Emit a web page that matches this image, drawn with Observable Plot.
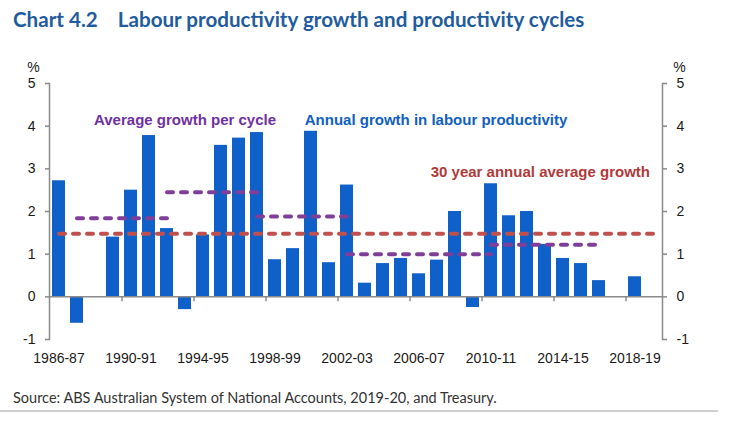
<!DOCTYPE html>
<html><head><meta charset="utf-8">
<script src="https://cdn.jsdelivr.net/npm/d3@7"></script>
<script src="https://cdn.jsdelivr.net/npm/@observablehq/plot@0.6"></script>
<style>
body{margin:0;background:#fff;width:733px;height:425px;overflow:hidden;font-family:"Liberation Sans",Arial,sans-serif}
#title{height:40px;box-sizing:border-box;padding:8px 0 0 13px;font:bold 20.6px/22px Lato;color:#1f5c9e;white-space:pre}
#chart{height:340px}
#chart svg{display:block}
#source{padding:10px 0 0 13px;font:14.5px/16px Lato;color:#333}
#rule{margin-top:4px;width:718px;height:2px;background:#cfcfcf}
</style></head>
<body>
<div id="title">Chart 4.2    Labour productivity growth and productivity cycles</div>
<div id="chart"></div>
<div id="source">Source: ABS Australian System of National Accounts, 2019-20, and Treasury.</div>
<div id="rule"></div>
<script>
// ---- data ----
const years = ["1986-87","1987-88","1988-89","1989-90","1990-91","1991-92","1992-93","1993-94","1994-95","1995-96","1996-97","1997-98","1998-99","1999-00","2000-01","2001-02","2002-03","2003-04","2004-05","2005-06","2006-07","2007-08","2008-09","2009-10","2010-11","2011-12","2012-13","2013-14","2014-15","2015-16","2016-17","2017-18","2018-19","2019-20"];
const growth = [2.72,-0.62,null,1.40,2.50,3.78,1.60,-0.30,1.45,3.55,3.72,3.85,0.87,1.13,3.88,0.80,2.62,0.32,0.78,0.90,0.54,0.86,2.00,-0.25,2.65,1.90,2.00,1.23,0.90,0.78,0.38,null,0.47,null];
const cycleStart = ["1987-88","1992-93","1997-98","2002-03","2010-11"];
const cycleEnd = ["1992-93","1997-98","2002-03","2010-11","2016-17"];
const cycleAverage = [1.84,2.45,1.88,1.00,1.22];
const longRunAverage = 1.48;
const yTicks = [-1,0,1,2,3,4,5];
const xLabelYears = years.filter((d,i)=>i%4===0);
const xTickYears = years.filter((d,i)=>i%4===0 && i>0);
const labels = ["Average growth per cycle","Annual growth in labour productivity","30 year annual average growth"];

// ---- derived tables ----
const bars = years.map((year,i)=>({year, value: growth[i]})).filter(d=>d.value!=null);
const cycleLines = cycleStart.flatMap((s,k)=>[
  {cycle:k, year:s, value:cycleAverage[k]},
  {cycle:k, year:cycleEnd[k], value:cycleAverage[k]}
]);
const avgLine = [{year:years[0], value:longRunAverage},{year:years[years.length-1], value:longRunAverage}];

const axisColor = "#8a8a8a";
function make(dxTick){
  return Plot.plot({
    width:733, height:340,
    marginLeft:49, marginRight:71, marginTop:43, marginBottom:41,
    style:{fontFamily:'"Liberation Sans", Arial, sans-serif', fontSize:"14px", color:"#1a1a1a", background:"transparent"},
    x:{type:"band", domain:years, paddingInner:0.27, paddingOuter:0.135, label:null},
    y:{domain:[-1,5], label:null},
    marks:[
      Plot.barY(bars,{x:"year", y:"value", fill:"#1060c9"}),
      Plot.ruleY([0],{stroke:axisColor, strokeWidth:1.5}),
      Plot.ruleX(xTickYears,{x:d=>d, y1:()=>0, y2:()=>0, insetBottom:-5, dx:dxTick, stroke:axisColor, strokeWidth:1.5}),
      Plot.frame({anchor:"left", stroke:axisColor, strokeWidth:1.5}),
      Plot.frame({anchor:"right", stroke:axisColor, strokeWidth:1.5}),
      Plot.axisY({anchor:"left", ticks:yTicks, tickSize:4, tickPadding:10, stroke:axisColor, strokeWidth:1.5, tickFormat:d=>String(d)}),
      Plot.axisY({anchor:"right", ticks:yTicks, tickSize:4, tickPadding:10, stroke:axisColor, strokeWidth:1.5, tickFormat:d=>String(d)}),
      Plot.axisX({anchor:"bottom", ticks:xLabelYears, tickSize:0, tickPadding:14}),
      Plot.text(["%"],{frameAnchor:"top-left", textAnchor:"middle", lineAnchor:"middle", dx:-16, dy:-16, fontSize:14}),
      Plot.text(["%"],{frameAnchor:"top-right", textAnchor:"middle", lineAnchor:"middle", dx:17, dy:-16, fontSize:14}),
      Plot.lineY(avgLine,{x:"year", y:"value", stroke:"#c0504d", strokeWidth:4, strokeDasharray:"6,8", strokeLinecap:"round"}),
      Plot.lineY(cycleLines,{x:"year", y:"value", z:"cycle", stroke:"#7f3f98", strokeWidth:4, strokeDasharray:"6,8", strokeLinecap:"round"}),
      Plot.text([labels[0]],{x:()=>"1988-89", y:()=>4.13, text:d=>d, textAnchor:"start", dx:-1, fill:"#7030a0", fontWeight:"bold", fontSize:15}),
      Plot.text([labels[1]],{x:()=>"2007-08", y:()=>4.13, text:d=>d, textAnchor:"middle", dx:-1, fill:"#1060c0", fontWeight:"bold", fontSize:15}),
      Plot.text([labels[2]],{x:()=>"2019-20", y:()=>2.91, text:d=>d, textAnchor:"end", dx:-3, fill:"#b03a3a", fontWeight:"bold", fontSize:15})
    ]
  });
}
const probe = make(0);
const step = probe.scale("x").step;
document.getElementById("chart").append(make(-step/2));
</script>
</body></html>
